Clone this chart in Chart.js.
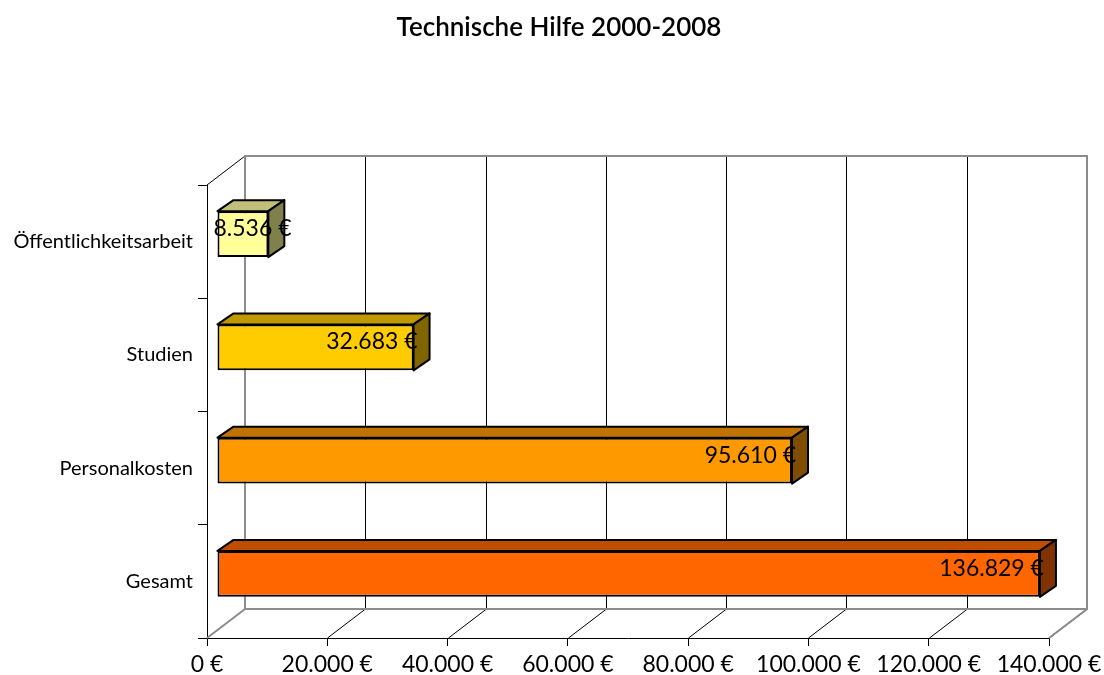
<!DOCTYPE html>
<html>
<head>
<meta charset="utf-8">
<script src="https://cdn.jsdelivr.net/npm/chart.js@4"></script>
<style>
  body { margin: 0; background: #fff; }
</style>
</head>
<body>
<canvas id="chart" width="1104" height="675"></canvas>
<script>
// Data
const categories = ['Öffentlichkeitsarbeit', 'Studien', 'Personalkosten', 'Gesamt'];
const amounts = [8536, 32683, 95610, 136829];
const frontColors = ['#FFFF99', '#FFCC00', '#FF9900', '#FF6600'];
const topColors = ['#C0C07A', '#C09900', '#C07300', '#BF4D00'];
const sideColors = ['#80804C', '#806600', '#804D00', '#803300'];
const xTicks = [0, 20000, 40000, 60000, 80000, 100000, 120000, 140000];

const FONT = 'Lato, "Noto Sans", sans-serif';
const DEPTH_X = 38, DEPTH_Y = -29;   // back wall offset
const BAR_X = 10, BAR_Y = -7.5;      // bar front plane offset
const BAR_DX = 16, BAR_DY = -11;     // bar depth

function euro(v) {
    return String(v).replace(/\B(?=(\d{3})+(?!\d))/g, '.') + ' €';
}

// draws the walls and floor of the 3d box
const wallsPlugin = {
    id: 'walls',
    afterLayout(chart) {
        // title is centred a bit right of the canvas middle
        const tb = chart.titleBlock;
        tb.left = 14;
        tb.right = chart.width;
    },
    beforeDatasetsDraw(chart) {
        const {ctx, chartArea: a, scales} = chart;
        const x = scales.x;
        ctx.save();
        // back wall gridlines + floor diagonals
        ctx.strokeStyle = '#000';
        ctx.lineWidth = 1;
        for (const t of xTicks) {
            const px = Math.round(x.getPixelForValue(t)) + 0.5;
            if (t > 0 && t < 140000) {
                ctx.beginPath();
                ctx.moveTo(px + DEPTH_X, a.top + DEPTH_Y);
                ctx.lineTo(px + DEPTH_X, a.bottom + DEPTH_Y);
                ctx.stroke();
            }
            if (t > 0) {
                ctx.beginPath();
                ctx.moveTo(px, a.bottom);
                ctx.lineTo(px + DEPTH_X, a.bottom + DEPTH_Y);
                ctx.stroke();
            }
        }
        // left wall top edge
        ctx.beginPath();
        ctx.moveTo(a.left, a.top);
        ctx.lineTo(a.left + DEPTH_X, a.top + DEPTH_Y);
        ctx.stroke();
        // gray back wall frame
        ctx.strokeStyle = '#8c8c8c';
        ctx.lineWidth = 2;
        ctx.beginPath();
        ctx.moveTo(a.left, a.bottom);
        ctx.lineTo(a.left + DEPTH_X, a.bottom + DEPTH_Y);
        ctx.lineTo(a.left + DEPTH_X, a.top + DEPTH_Y);
        ctx.lineTo(a.right + DEPTH_X, a.top + DEPTH_Y);
        ctx.lineTo(a.right + DEPTH_X, a.bottom + DEPTH_Y);
        ctx.lineTo(a.right, a.bottom);
        ctx.moveTo(a.left + DEPTH_X, a.bottom + DEPTH_Y);
        ctx.lineTo(a.right + DEPTH_X, a.bottom + DEPTH_Y);
        ctx.stroke();
        ctx.restore();

        // bars are drawn a bit into the depth
        ctx.save();
        ctx.translate(BAR_X, BAR_Y);
    },
    afterDatasetsDraw(chart) {
        const ctx = chart.ctx;
        const bars = chart.getDatasetMeta(0).data;
        ctx.lineWidth = 2;
        ctx.strokeStyle = '#000';
        ctx.lineJoin = 'round';
        bars.forEach((bar, i) => {
            const left = bar.base, right = bar.x;
            const top = bar.y - bar.height / 2, bottom = bar.y + bar.height / 2;
            // top face
            ctx.beginPath();
            ctx.moveTo(left, top);
            ctx.lineTo(left + BAR_DX, top + BAR_DY);
            ctx.lineTo(right + BAR_DX, top + BAR_DY);
            ctx.lineTo(right, top);
            ctx.closePath();
            ctx.fillStyle = topColors[i];
            ctx.fill();
            ctx.stroke();
            // side face
            ctx.beginPath();
            ctx.moveTo(right, top);
            ctx.lineTo(right + BAR_DX, top + BAR_DY);
            ctx.lineTo(right + BAR_DX, bottom + BAR_DY);
            ctx.lineTo(right, bottom);
            ctx.closePath();
            ctx.fillStyle = sideColors[i];
            ctx.fill();
            ctx.stroke();
        });
        // value labels
        ctx.font = '23px ' + FONT;
        ctx.fillStyle = '#000';
        ctx.textBaseline = 'middle';
        ctx.textAlign = 'left';
        bars.forEach((bar, i) => {
            const txt = euro(amounts[i]);
            const w = ctx.measureText(txt).width;
            const tx = Math.max(bar.x + 4 - w, bar.base - 4);
            ctx.fillText(txt, tx, bar.y + BAR_DY / 2);
        });
        ctx.restore();
    }
};

new Chart(document.getElementById('chart'), {
    type: 'bar',
    data: {
        labels: categories,
        datasets: [{
            data: amounts,
            backgroundColor: frontColors,
            borderColor: '#000',
            borderWidth: 2,
            borderSkipped: false,
            categoryPercentage: 1,
            barPercentage: 0.406
        }]
    },
    options: {
        indexAxis: 'y',
        responsive: false,
        animation: false,
        layout: { padding: { top: 0, right: 55, left: 0, bottom: 0 } },
        scales: {
            x: {
                min: 0,
                max: 140000,
                afterFit(scale) {
                    scale.height = 37;
                    scale.paddingLeft = 0;
                    scale.paddingRight = 0;
                },
                afterBuildTicks(scale) { scale.ticks = xTicks.map(v => ({value: v})); },
                ticks: {
                    color: '#000',
                    font: { size: 23, family: FONT },
                    padding: 5,
                    maxRotation: 0,
                    callback: v => euro(v)
                },
                grid: { drawOnChartArea: false, color: '#000', tickLength: 8 },
                border: { color: '#000', width: 1 }
            },
            y: {
                afterFit(scale) { scale.width = 207; },
                ticks: {
                    color: '#000',
                    font: { size: 20, family: FONT },
                    padding: 5
                },
                grid: { drawOnChartArea: false, color: '#000', tickLength: 9, offset: true },
                border: { color: '#000', width: 1 }
            }
        },
        plugins: {
            legend: { display: false },
            tooltip: { enabled: false },
            title: {
                display: true,
                text: 'Technische Hilfe 2000-2008',
                color: '#000',
                font: { size: 26, weight: '600', family: FONT },
                padding: { top: 12.4, bottom: 141.4 }
            }
        }
    },
    plugins: [wallsPlugin]
});
</script>
</body>
</html>
